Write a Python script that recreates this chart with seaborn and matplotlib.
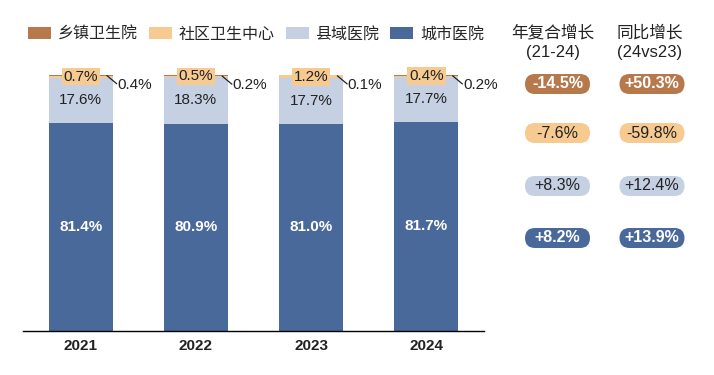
import matplotlib
matplotlib.use("Agg")
import matplotlib.pyplot as plt
import seaborn as sns
import pandas as pd
import numpy as np
from matplotlib.patches import FancyBboxPatch, Patch

sns.set_theme(style="white")
plt.rcParams['font.family'] = ['Liberation Sans', 'Noto Sans CJK SC', 'DejaVu Sans']

years = ["2021", "2022", "2023", "2024"]
city = [81.4, 80.9, 81.0, 81.7]        # 城市医院
county = [17.6, 18.3, 17.7, 17.7]      # 县域医院
community = [0.7, 0.5, 1.2, 0.4]       # 社区卫生中心
township = [0.4, 0.2, 0.1, 0.2]        # 乡镇卫生院
series_names = ["乡镇卫生院", "社区卫生中心", "县域医院", "城市医院"]
cagr = ["-14.5%", "-7.6%", "+8.3%", "+8.2%"]
yoy = ["+50.3%", "-59.8%", "+12.4%", "+13.9%"]
header1 = ["年复合增长", "(21-24)"]
header2 = ["同比增长", "(24vs23)"]

colors = {"乡镇卫生院": "#B7794B", "社区卫生中心": "#F6CA90",
          "县域医院": "#C6D0E3", "城市医院": "#4A699B"}

W, H = 714, 375
fig = plt.figure(figsize=(W / 100, H / 100), dpi=100)

# overlay axes in pixel coordinates for the right-hand panel
ov = fig.add_axes([0, 0, 1, 1])
ov.set_xlim(0, W)
ov.set_ylim(H, 0)
ov.axis("off")

ax = fig.add_axes([23 / W, 44 / H, 461 / W, 256 * 1.01 / H])

df = pd.DataFrame({"year": years, "城市医院": city, "县域医院": county,
                   "社区卫生中心": community, "乡镇卫生院": township})
order = ["城市医院", "县域医院", "社区卫生中心", "乡镇卫生院"]
bottom = np.zeros(len(years))
bw = 0.555
bottoms = {}
for name in order:
    sns.barplot(data=df, x="year", y=name, bottom=bottom, color=colors[name],
                width=bw, ax=ax, saturation=1, linewidth=0)
    bottoms[name] = bottom.copy()
    bottom = bottom + df[name].values

ax.set_xlim(-0.5, 3.5)
ax.set_ylim(0, 101)
ax.set_xlabel("")
ax.set_ylabel("")
ax.set_yticks([])
for s in ["top", "left", "right"]:
    ax.spines[s].set_visible(False)
ax.spines["bottom"].set_color("black")
ax.spines["bottom"].set_linewidth(1.0)
ax.tick_params(axis="x", length=0, pad=6)
ax.set_xticks(range(len(years)))
ax.set_xticklabels(years, fontsize=11, fontweight="bold", color="#222222")

for i in range(len(years)):
    ax.text(i, bottoms["城市医院"][i] + city[i] / 2, f"{city[i]:.1f}%", ha="center",
            va="center", color="white", fontsize=11, fontweight="bold")
    ax.text(i, bottoms["县域医院"][i] + county[i] / 2, f"{county[i]:.1f}%", ha="center",
            va="center", color="#222222", fontsize=11)
    ax.text(i, bottoms["社区卫生中心"][i] + community[i] / 2, f"{community[i]:.1f}%",
            ha="center", va="center", color="#222222", fontsize=11,
            bbox=dict(boxstyle="square,pad=0.12", fc=colors["社区卫生中心"], ec="none"))
    top = bottoms["乡镇卫生院"][i] + township[i]
    x0 = i + bw / 2 - 0.05
    x1 = i + bw / 2 + 0.035
    ax.plot([x0, x1], [top - 0.3, top - 3.5], color="#222222", lw=0.9, clip_on=False)
    ax.text(x1 + 0.005, top - 4.0, f"{township[i]:.1f}%", ha="left", va="center",
            color="#222222", fontsize=11)

# legend
handles = [Patch(facecolor=colors[n], edgecolor="none") for n in series_names]
fig.legend(handles, series_names, loc="center", bbox_to_anchor=(256 / W, 1 - 34 / H),
           ncol=4, frameon=False, fontsize=11.5, handlelength=1.45, handleheight=0.85,
           handletextpad=0.4, columnspacing=0.7)

# right side headers
for cx, hdr in [(553, header1), (650, header2)]:
    ov.text(cx, 33, hdr[0], ha="center", va="center", fontsize=12, color="#222222")
    ov.text(cx, 53, hdr[1], ha="center", va="center", fontsize=12, color="#222222")

row_y = [84, 133, 186, 238]
pill_names = ["乡镇卫生院", "社区卫生中心", "县域医院", "城市医院"]
text_col = ["white", "#222222", "#222222", "white"]
pw, ph = 65, 20
for cx, vals in [(557.5, cagr), (652, yoy)]:
    for j, v in enumerate(vals):
        cy = row_y[j]
        p = FancyBboxPatch((cx - pw / 2, cy - ph / 2), pw, ph,
                           boxstyle=f"round,pad=0,rounding_size={ph / 2}",
                           fc=colors[pill_names[j]], ec="none")
        ov.add_patch(p)
        ov.text(cx, cy, v, ha="center", va="center", fontsize=11.5,
                color=text_col[j], fontweight="bold" if text_col[j] == "white" else "normal")

fig.savefig("out.png", dpi=100)
